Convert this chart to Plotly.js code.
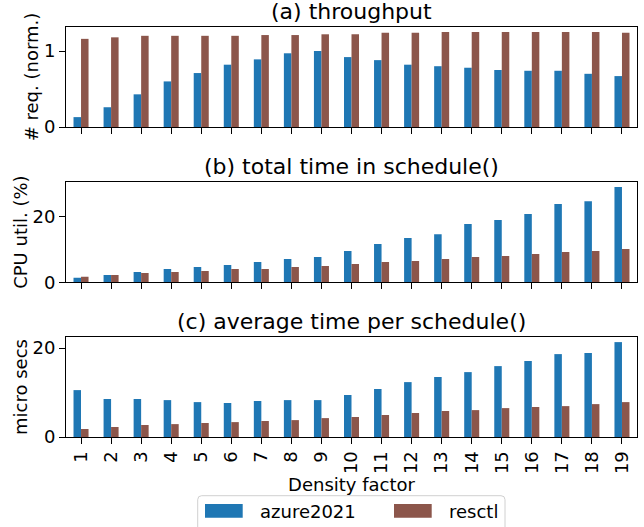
<!DOCTYPE html>
<html>
<head>
<meta charset="utf-8">
<script src="https://cdn.plot.ly/plotly-3.0.1.min.js"></script>
<style>html,body{margin:0;padding:0;background:#fff;}#chart{width:644px;height:527px;}</style>
</head>
<body>
<div id="chart"></div>
<script>
// ---- data ----
const categories = ['1','2','3','4','5','6','7','8','9','10','11','12','13','14','15','16','17','18','19'];
const seriesNames = ['azure2021', 'resctl'];
const azureThroughput  = [0.13,0.26,0.43,0.60,0.71,0.82,0.89,0.97,1.00,0.92,0.88,0.82,0.80,0.78,0.75,0.74,0.74,0.70,0.67];
const resctlThroughput = [1.16,1.18,1.20,1.20,1.20,1.20,1.21,1.21,1.22,1.22,1.24,1.24,1.25,1.25,1.25,1.25,1.25,1.25,1.24];
const azureCpu  = [1.4,2.2,3.1,4.0,4.65,5.25,6.15,7.05,7.7,9.5,11.6,13.4,14.6,17.7,18.9,20.7,23.7,24.6,28.9];
const resctlCpu = [1.7,2.2,2.8,3.1,3.4,4.0,4.0,4.65,4.95,5.55,6.15,6.45,7.05,7.7,8.0,8.6,9.2,9.5,10.1];
const azureAvg  = [10.55,8.55,8.55,8.3,7.85,7.65,8.1,8.3,8.3,9.45,10.8,12.35,13.5,14.6,15.95,17.1,18.65,18.9,21.35];
const resctlAvg = [1.8,2.25,2.7,2.9,3.15,3.35,3.6,3.8,4.25,4.5,4.95,5.4,5.85,6.05,6.5,6.75,6.95,7.4,7.85];
const panelTitles = ['(a) throughput', '(b) total time in schedule()', '(c) average time per schedule()'];
const yTitles = ['# req. (norm.)', 'CPU util. (%)', 'micro secs'];
const xTitle = 'Density factor';

// ---- style ----
const W = 644, H = 527;
const colors = ['#1f77b4', '#8c564b'];
const FONT = 'DejaVu Sans, sans-serif';
const px = x => x / W;
const py = y => 1 - y / H;
const xDom = [px(66), px(637)];
const yDoms = [[py(127), py(27)], [py(282.3), py(182)], [py(437), py(337)]];
const yRanges = [[0, 1.316], [0, 30.4], [0, 22.5]];
const yTicks = [[0, 1], [0, 20], [0, 20]];

const panels = [
  [azureThroughput, resctlThroughput],
  [azureCpu, resctlCpu],
  [azureAvg, resctlAvg]
];

const traces = [];
panels.forEach((vals, p) => {
  vals.forEach((v, s) => {
    traces.push({
      type: 'bar', x: categories, y: v, name: seriesNames[s],
      marker: {color: colors[s], line: {width: 0}},
      xaxis: 'x' + (p === 0 ? '' : p + 1), yaxis: 'y' + (p === 0 ? '' : p + 1),
      showlegend: false, hoverinfo: 'x+y+name'
    });
  });
});

const layout = {
  width: W, height: H,
  margin: {l: 0, r: 0, t: 0, b: 0},
  paper_bgcolor: '#fff', plot_bgcolor: '#fff',
  font: {family: FONT, size: 18, color: '#000'},
  barmode: 'group', bargap: 0.5, bargroupgap: 0,
  showlegend: false,
  annotations: [], shapes: []
};

for (let p = 0; p < 3; p++) {
  const sx = p === 0 ? '' : String(p + 1);
  layout['xaxis' + sx] = {
    domain: xDom, anchor: 'y' + sx, type: 'category',
    range: [-0.5, 18.5],
    showline: true, mirror: true, linecolor: '#000', linewidth: 1,
    ticks: 'outside', ticklen: 6, tickcolor: '#000', tickwidth: 1,
    showgrid: false, zeroline: false,
    showticklabels: p === 2, tickangle: -90,
    tickfont: {size: 18, family: FONT},
    title: p === 2 ? {text: xTitle, font: {size: 18, family: FONT}, standoff: 3} : {text: ''}
  };
  layout['yaxis' + sx] = {
    domain: yDoms[p], anchor: 'x' + sx, range: yRanges[p],
    tickvals: yTicks[p], ticktext: yTicks[p].map(String),
    showline: true, mirror: true, linecolor: '#000', linewidth: 1,
    ticks: 'outside', ticklen: 6, tickcolor: '#000', tickwidth: 1,
    showgrid: false, zeroline: false,
    tickfont: {size: 18, family: FONT},
    title: {text: yTitles[p], font: {size: 18, family: FONT}, standoff: 0}
  };
  layout.annotations.push({
    text: panelTitles[p], xref: 'paper', yref: 'paper',
    x: (xDom[0] + xDom[1]) / 2, y: yDoms[p][1], xanchor: 'center', yanchor: 'bottom',
    yshift: 1, showarrow: false, font: {size: 22, family: FONT, color: '#000'}
  });
}

// ---- custom legend ----
const legBox = {x0: 197.7, x1: 505, y0: 495.7, y1: 540, r: 4};
const b = legBox;
layout.shapes.push({
  type: 'path', xref: 'paper', yref: 'paper',
  path: `M ${px(b.x0 + b.r)},${py(b.y0)} L ${px(b.x1 - b.r)},${py(b.y0)} Q ${px(b.x1)},${py(b.y0)} ${px(b.x1)},${py(b.y0 + b.r)} L ${px(b.x1)},${py(b.y1)} L ${px(b.x0)},${py(b.y1)} L ${px(b.x0)},${py(b.y0 + b.r)} Q ${px(b.x0)},${py(b.y0)} ${px(b.x0 + b.r)},${py(b.y0)} Z`,
  line: {color: '#d0d0d0', width: 1}, fillcolor: 'rgba(255,255,255,0.8)'
});
const swatchX = [205, 394];
seriesNames.forEach((name, i) => {
  layout.shapes.push({
    type: 'rect', xref: 'paper', yref: 'paper',
    x0: px(swatchX[i]), x1: px(swatchX[i] + 37.7), y0: py(517.7), y1: py(504),
    fillcolor: colors[i], line: {width: 0}
  });
  layout.annotations.push({
    text: name, xref: 'paper', yref: 'paper',
    x: px(swatchX[i] + 52.5), y: py(511), xanchor: 'left', yanchor: 'middle',
    showarrow: false, font: {size: 18, family: FONT, color: '#000'}
  });
});

Plotly.newPlot('chart', traces, layout, {displayModeBar: false, staticPlot: true});
</script>
</body>
</html>
